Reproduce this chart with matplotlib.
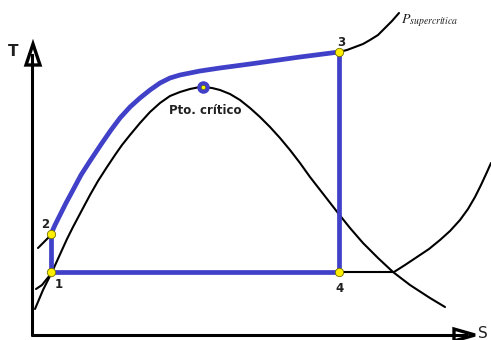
import matplotlib
matplotlib.use("Agg")
import matplotlib.pyplot as plt
from matplotlib.patches import Polygon

plt.rcParams["mathtext.fontset"] = "stix"

# Schematic T-s diagram, coordinates (pixel space, y downward)
cycle_x = [339, 51, 51]          # 4 -> 1 -> 2
cycle_y = [272, 272, 234]
heat_x = [51, 55, 60, 66, 73, 81, 90, 96, 102, 111, 120, 130, 140, 150, 160, 170, 180, 190, 200, 220, 250, 300, 339]
heat_y = [234, 225, 215, 203, 190, 175, 161, 152, 143, 130, 118, 107, 98, 90, 83, 78, 75, 73, 71, 68, 64, 57, 52]
expand_x = [339, 339]
expand_y = [52, 272]

dome_x = [35, 43, 52, 57, 62, 67, 73, 82, 90, 98, 107, 115, 122, 130, 140, 150, 160, 170, 180, 190, 200, 203,
          212, 220, 230, 240, 250, 260, 270, 280, 290, 300, 310, 324, 338, 350, 363, 378, 393, 410, 430, 445]
dome_y = [309, 290, 272, 261, 250, 239, 227, 210, 195, 181, 167, 155, 145, 135, 123, 112, 103, 96, 92, 89, 87, 87,
          88, 90, 94, 100, 108, 117, 127, 138, 150, 163, 177, 195, 213, 228, 243, 258, 272, 285, 298, 307]

isobar_low_x = [339, 394]
isobar_low_y = [272, 272]
isobar_right_x = [394, 405, 417, 429, 440, 450, 460, 468, 475, 481, 487, 491]
isobar_right_y = [272, 265, 257, 249, 240, 231, 220, 209, 197, 185, 172, 163]
super_x = [339, 347, 355, 363, 370, 378, 385, 392, 399]
super_y = [52, 50, 47, 44, 40, 35, 28, 21, 13]
stub2_x = [38, 43, 50]
stub2_y = [248, 243, 236]
stub1_x = [36, 42, 50]
stub1_y = [289, 285, 275]

pts_x = [51, 51, 339, 339]
pts_y = [272, 234, 52, 272]
pt_labels = ["1", "2", "3", "4"]
lab_x = [59, 45, 341, 340]
lab_y = [284, 225, 42, 289]
crit_x, crit_y = 203, 87

BLUE = "#4040c8"
fig = plt.figure(figsize=(4.91, 3.40), dpi=100)
ax = fig.add_axes([0, 0, 1, 1])
ax.set_xlim(0, 491)
ax.set_ylim(340, 0)
ax.axis("off")

# axes arrows
ax.plot([32, 32], [336, 55], color="black", lw=2.2, solid_capstyle="butt", zorder=2)
ax.plot([31, 470], [335, 335], color="black", lw=2.2, solid_capstyle="butt", zorder=2)
ax.add_patch(Polygon([[33, 44], [26, 65], [40, 65]], closed=True, fc="white", ec="black", lw=2.4, zorder=3))
ax.plot([32.5, 32.5], [65, 55], color="black", lw=2.2, zorder=4)
ax.add_patch(Polygon([[475, 335], [454, 329], [454, 341]], closed=True, fc="white", ec="black", lw=2.4, zorder=3))
ax.plot([454, 466], [335, 335], color="black", lw=2.2, zorder=4)
ax.text(13, 52, "T", fontsize=11, fontweight="bold", color="#202020", ha="center", va="center")
ax.text(478, 334, "S", fontsize=11, color="#202020", ha="left", va="center")

# black curves
for xs, ys in [(dome_x, dome_y), (isobar_low_x, isobar_low_y), (isobar_right_x, isobar_right_y),
               (super_x, super_y), (stub2_x, stub2_y), (stub1_x, stub1_y)]:
    ax.plot(xs, ys, color="black", lw=1.5, solid_capstyle="round", solid_joinstyle="round", zorder=3)

# blue cycle
for xs, ys in [(cycle_x, cycle_y), (heat_x, heat_y), (expand_x, expand_y)]:
    ax.plot(xs, ys, color=BLUE, lw=3.4, solid_capstyle="butt", solid_joinstyle="round", zorder=4)

# critical point
ax.plot([crit_x], [crit_y], "o", ms=8, mfc=BLUE, mec=BLUE, zorder=5)
ax.plot([crit_x], [crit_y], "o", ms=3, mfc="yellow", mec="#606000", mew=0.4, zorder=6)
ax.text(205, 110, "Pto. crítico", fontsize=8.5, fontweight="bold", color="#202020", ha="center", va="center")

# state points
ax.plot(pts_x, pts_y, "o", ms=6, mfc="#ffee00", mec="#707000", mew=0.6, zorder=6)
for lx, ly, t in zip(lab_x, lab_y, pt_labels):
    ax.text(lx, ly, t, fontsize=8.5, fontweight="bold", color="#202020", ha="center", va="center")

ax.text(401, 21, r"$P_{supercrítica}$", fontsize=10, color="#202020", ha="left", va="center")

fig.savefig("out.png", dpi=100)
